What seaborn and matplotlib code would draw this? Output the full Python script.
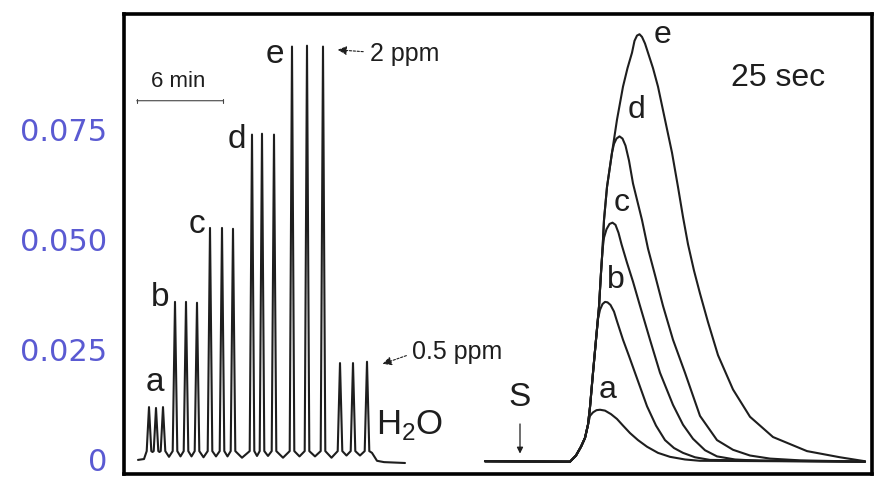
import matplotlib
matplotlib.use('Agg')
import matplotlib.pyplot as plt
import pandas as pd
import seaborn as sns

# --- data (x = chart position, y = absorbance) ---

# left: repeated injections a..e, then 2 ppm and 0.5 ppm check samples
peak_pos = [149, 156, 163, 175, 186, 197, 210, 222, 233,
            252, 262, 274, 292, 307, 323, 340, 353, 367]
peak_abs = [0.0120, 0.0118, 0.0120, 0.0359, 0.0359, 0.0357, 0.0527, 0.0527, 0.0525,
            0.0739, 0.0741, 0.0739, 0.0939, 0.0941, 0.0939, 0.0220, 0.0220, 0.0223]
valley_pos = [138, 144, 152.5, 159.5, 169, 180.5, 191.5, 203.5, 216, 227.5, 242,
              257, 268, 283, 299.5, 315, 331.5, 346.5, 360, 372, 377, 384, 405]
valley_abs = [0.0000, 0.0002, 0.0018, 0.0018, 0.0007, 0.0008, 0.0008, 0.0006, 0.0008,
              0.0008, 0.0005, 0.0009, 0.0009, 0.0005, 0.0008, 0.0008, 0.0005, 0.0010,
              0.0010, 0.0016, -0.0002, -0.0005, -0.0007]

# right: single peaks a..e (shared rising edge, then each curve's own tail)
rise_x = [485, 570, 576, 581, 585, 588, 590, 593, 596, 599, 601, 602.5,
          604, 607, 612, 617, 623, 627.5, 632]
rise_y = [-0.0003, -0.0004, 0.0010, 0.0030, 0.0050, 0.0080, 0.0120, 0.0198,
          0.0273, 0.0348, 0.0425, 0.0477, 0.0545, 0.0620, 0.0698, 0.0773,
          0.0848, 0.0890, 0.0925]

tail_a_x = [590, 593, 596.5, 600, 605, 611, 617, 623, 630, 638, 647, 658, 670,
            685, 700, 865]
tail_a_y = [0.0100, 0.0108, 0.0113, 0.0114, 0.0112, 0.0104, 0.0093, 0.0078,
            0.0061, 0.0045, 0.0030, 0.0016, 0.0007, 0.0001, -0.0002, -0.0004]

tail_b_x = [598, 600, 602.5, 605, 607.5, 610.5, 614, 617, 623, 629, 635, 641,
            647, 656, 665, 674, 683, 695, 710, 865]
tail_b_y = [0.0320, 0.0341, 0.0354, 0.0359, 0.0358, 0.0352, 0.0337, 0.0315,
            0.0273, 0.0236, 0.0198, 0.0160, 0.0122, 0.0078, 0.0045, 0.0027,
            0.0016, 0.0006, 0.0000, -0.0004]

tail_c_x = [604, 606.5, 609.5, 612.5, 615.5, 618.5, 621.5, 627, 633, 640, 650,
            660, 673, 683, 693, 705, 717, 735, 760, 865]
tail_c_y = [0.0505, 0.0524, 0.0536, 0.0539, 0.0534, 0.0516, 0.0490, 0.0448,
            0.0405, 0.0350, 0.0273, 0.0198, 0.0125, 0.0080, 0.0048, 0.0022,
            0.0008, 0.0001, -0.0002, -0.0004]

tail_d_x = [614, 616.5, 619.5, 622.5, 625.5, 629, 633, 642, 648, 655, 663, 673,
            685, 700, 717, 733, 750, 770, 800, 865]
tail_d_y = [0.0718, 0.0730, 0.0735, 0.0730, 0.0714, 0.0680, 0.0628, 0.0545,
            0.0480, 0.0420, 0.0350, 0.0273, 0.0198, 0.0100, 0.0045, 0.0023,
            0.0010, 0.0003, -0.0001, -0.0004]

tail_e_x = [634.5, 637, 639.5, 642, 645, 648, 653, 658, 665, 672, 678, 683, 688,
            694, 700, 708, 718, 733, 750, 773, 807, 840, 865]
tail_e_y = [0.0952, 0.0964, 0.0967, 0.0961, 0.0946, 0.0925, 0.0890, 0.0848,
            0.0773, 0.0698, 0.0620, 0.0552, 0.0490, 0.0430, 0.0378, 0.0313,
            0.0238, 0.0160, 0.0098, 0.0052, 0.0020, 0.0006, -0.0003]

curve_names = ['a', 'b', 'c', 'd', 'e']
tails = {'a': (tail_a_x, tail_a_y), 'b': (tail_b_x, tail_b_y),
         'c': (tail_c_x, tail_c_y), 'd': (tail_d_x, tail_d_y),
         'e': (tail_e_x, tail_e_y)}

ytick_vals = [0, 0.025, 0.05, 0.075]
ytick_labels = ['0', '0.025', '0.050', '0.075']

# flow trace: narrow spikes, each with a foot either side, joined by valleys
foot_half = 2.3
foot_level = 0.0020
pts = list(zip(valley_pos, valley_abs)) + list(zip(peak_pos, peak_abs))
for p in peak_pos:
    pts += [(p - foot_half, foot_level), (p + foot_half, foot_level)]
pts.sort()
flow = pd.DataFrame(pts, columns=['pos', 'absorbance'])

# long table for the single-peak curves
rows = []
for name in curve_names:
    tx, ty = tails[name]
    for x, y in zip(rise_x, rise_y):
        if x < tx[0]:
            rows.append((name, x, y))
    for x, y in zip(tx, ty):
        rows.append((name, x, y))
peaks = pd.DataFrame(rows, columns=['curve', 'pos', 'absorbance'])

sns.set_style('white')
plt.rcParams['font.family'] = ['Liberation Sans', 'DejaVu Sans']

ink = '#1e1e1e'
fig = plt.figure(figsize=(8.77, 4.8), dpi=100)
ax = fig.add_axes([124 / 877, 6 / 480, 748 / 877, 460 / 480])

sns.lineplot(data=flow, x='pos', y='absorbance', sort=False, estimator=None,
             color=ink, lw=1.5, ax=ax)
sns.lineplot(data=peaks, x='pos', y='absorbance', hue='curve',
             palette={n: ink for n in curve_names}, sort=False, estimator=None,
             lw=1.5, legend=False, ax=ax)

ax.set_xlim(124, 872)
ax.set_ylim(-0.0032, 0.1013)
ax.set_xticks([])
ax.set_yticks(ytick_vals)
ax.set_yticklabels(ytick_labels, family='DejaVu Sans')
ax.tick_params(axis='y', length=0, pad=12, labelsize=22, labelcolor='#5a5ad2')
ax.set_xlabel('')
ax.set_ylabel('')
for sp in ax.spines.values():
    sp.set_linewidth(2.6)
    sp.set_color('black')

txt = dict(color=ink, ha='center', va='center')

# labels on the flow-injection trace
ax.text(155, 0.0175, 'a', fontsize=24, **txt)
ax.text(160, 0.0368, 'b', fontsize=24, **txt)
ax.text(197, 0.0534, 'c', fontsize=24, **txt)
ax.text(237, 0.0727, 'd', fontsize=24, **txt)
ax.text(275, 0.0920, 'e', fontsize=24, **txt)

# 6 min scale bar
ax.annotate('', xy=(226, 0.0816), xytext=(134, 0.0816),
            arrowprops=dict(arrowstyle='|-|, widthA=0.15, widthB=0.15',
                            lw=0.8, color='#444444'))
ax.text(178, 0.0860, '6 min', fontsize=16, **txt)

# concentration markers
ax.annotate('', xy=(335, 0.0932), xytext=(366, 0.0927),
            arrowprops=dict(arrowstyle='-|>', lw=0.8, ls=(0, (2, 1.5)),
                            color=ink, mutation_scale=13))
ax.text(370, 0.0922, '2 ppm', fontsize=18, color=ink, ha='left', va='center')
ax.annotate('', xy=(380, 0.0216), xytext=(409, 0.0239),
            arrowprops=dict(arrowstyle='-|>', lw=0.8, ls=(0, (2, 1.5)),
                            color=ink, mutation_scale=13))
ax.text(412, 0.0245, '0.5 ppm', fontsize=18, color=ink, ha='left', va='center')
ax.text(376, 0.0080, r'H$_{\mathregular{2}}$O', fontsize=25, color=ink,
        ha='left', va='center')

# single peak panel
ax.text(520, 0.0141, 'S', fontsize=24, **txt)
ax.annotate('', xy=(520, 0.0008), xytext=(520, 0.0088),
            arrowprops=dict(arrowstyle='-|>', lw=0.9, color=ink,
                            mutation_scale=9))
ax.text(608, 0.0159, 'a', fontsize=23, **txt)
ax.text(616, 0.0409, 'b', fontsize=23, **txt)
ax.text(622, 0.0584, 'c', fontsize=23, **txt)
ax.text(637, 0.0795, 'd', fontsize=23, **txt)
ax.text(663, 0.0966, 'e', fontsize=23, **txt)
ax.text(778, 0.0868, '25 sec', fontsize=23, **txt)

fig.savefig('out.png', dpi=100)
